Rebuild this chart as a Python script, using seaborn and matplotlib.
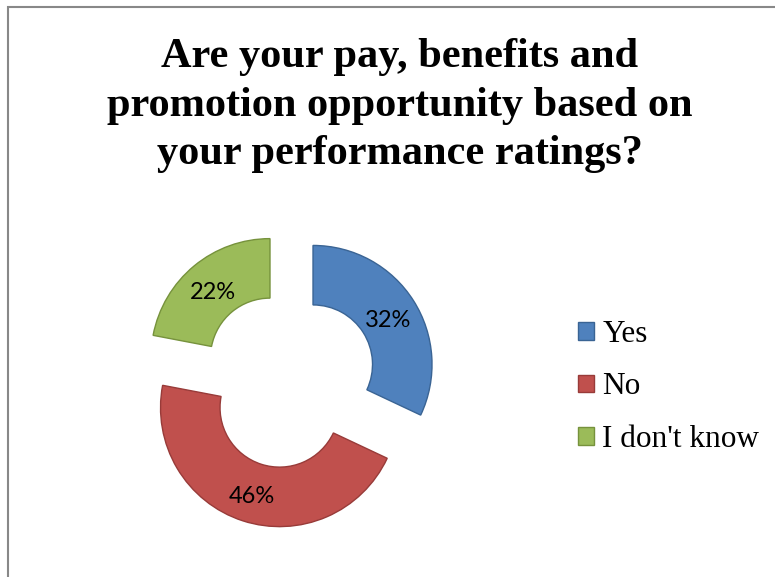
import matplotlib.pyplot as plt
import matplotlib.patches as mpatches
import seaborn as sns

sns.set_style("white")
plt.rcParams["font.family"] = ["Liberation Serif", "DejaVu Serif"]
plt.rcParams["text.color"] = "black"

# data
labels = ["Yes", "No", "I don't know"]
shares = [32, 46, 22]
colors = ["#4F81BD", "#C0504D", "#9BBB59"]
edges = ["#3A6494", "#983B39", "#76923C"]
title = "Are your pay, benefits and\npromotion opportunity based on\nyour performance ratings?"

palette = sns.color_palette(colors)

fig = plt.figure(figsize=(7.75, 5.77), dpi=100)
W, H = 775, 577

# pie axes: centre (288.5, 380) px from top-left, radius 119 px
half = 170
cx, cy = 288.5, H - 380
ax = fig.add_axes([(cx - half) / W, (cy - half) / H, 2 * half / W, 2 * half / H])

wedges, texts, autotexts = ax.pie(
    shares, colors=palette, startangle=90, counterclock=False,
    explode=[0.244] * 3, radius=1.0, pctdistance=0.75,
    autopct="%d%%", wedgeprops=dict(width=0.5, linewidth=1.0),
    textprops=dict(fontsize=17, family=["Lato", "DejaVu Sans"], color="black"),
)
for w, e in zip(wedges, edges):
    w.set_edgecolor(e)
# the reference labels sit a touch lower
for t in autotexts:
    x, y = t.get_position()
    t.set_position((x, y - 0.03))
ax.set_xlim(-half / 119, half / 119)
ax.set_ylim(-half / 119, half / 119)
ax.set_aspect("equal")
ax.axis("off")

fig.text(400 / W, 1 - 38 / H, title, ha="center", va="top", fontsize=30.5,
         fontweight="bold", linespacing=1.37, color="black")

handles = [mpatches.Patch(facecolor=c, edgecolor=e, label=l)
           for c, e, l in zip(palette, edges, labels)]
fig.legend(handles=handles, loc="center left", bbox_to_anchor=(550 / W, 1 - 387 / H),
           frameon=False, fontsize=22.5, handlelength=0.5, handleheight=0.5,
           handletextpad=0.27, labelspacing=0.75, labelcolor="black")

# chart border (left and top visible)
fig.add_artist(mpatches.Rectangle((8 / W, -0.5), 2, 0.5 + (1 - 7 / H), transform=fig.transFigure,
                                  fill=False, edgecolor="#888888", linewidth=1.5, clip_on=False))

plt.savefig("out.png", dpi=100)
